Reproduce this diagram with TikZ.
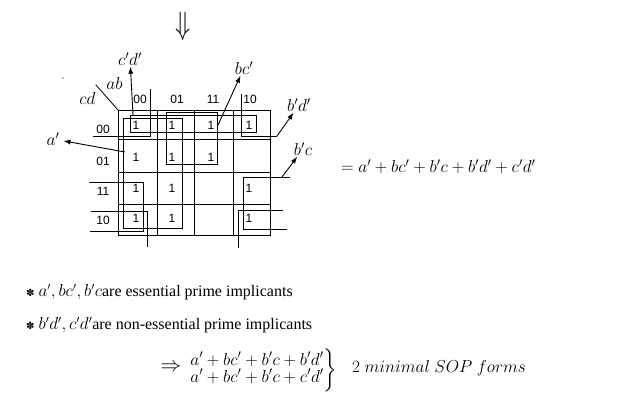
\documentclass[tikz,border=0pt]{standalone}
\usepackage{amsmath,amssymb}
\usepackage{fontspec}
\setmainfont{Liberation Serif}
\newfontfamily\mapfont{Liberation Sans}
\newfontfamily\symfont{DejaVu Sans}
\usetikzlibrary{arrows.meta}

\begin{document}
\begin{tikzpicture}[
  x=1pt, y=-1pt,
  line/.style={line width=.8pt, line cap=rect},
  bit/.style={font=\mapfont\fontsize{12}{14}\selectfont, inner sep=0pt},
  lbl/.style={font=\fontsize{17}{19}\selectfont, inner sep=1pt},
  eqn/.style={font=\fontsize{18}{20}\selectfont, inner sep=1pt, anchor=west},
  txt/.style={font=\fontsize{16}{18}\selectfont, inner sep=0pt, anchor=west},
  arrow/.style={-{Latex[length=7pt, width=5pt]}, line width=.9pt}
]
\useasboundingbox (0,0) rectangle (639,413);

\node[inner sep=0pt] (down) at (183.5,26) {\scalebox{1}[1.3]{\fontsize{28}{28}\selectfont$\Downarrow$}};

\draw[line] (118,110) rectangle (270,235);
\foreach \x in {157,194,233} \draw[line] (\x,110) -- (\x,235);
\foreach \y in {139,172,204} \draw[line] (118,\y) -- (270,\y);
\draw[line] (96,85) -- (118,110);
\fill (63,78) circle (.6pt);

\node[lbl] (ab) at (114.5,83) {$ab$};
\node[lbl] (cd) at (87.5,98) {$cd$};
\foreach \x/\t in {140/00,177/01,213/11,250/10}
  \node[bit] (c\t) at (\x,99) {\t};
\foreach \y/\t in {129/00,161/01,191/11,220/10}
  \node[bit] (r\t) at (103,\y) {\t};
\foreach \x/\y [count=\i] in {136/125,172/125,211/125,249/125,136/157,172/157,211/157,136/188,172/188,249/188,136/218,172/218,249/218}
  \node[bit] (one\i) at (\x,\y) {1};

\draw[line] (123,118) rectangle (182,228);
\draw[line] (166,112) rectangle (217.5,164);
\draw[line] (130,115) rectangle (256.5,132);
\draw[line] (150,89) -- (150,136) -- (93,136);
\draw[line] (241,94) -- (241,136) -- (277,136);
\draw[line] (91,211) -- (147,211) -- (147,247);
\draw[line] (283,210) -- (238,210) -- (238,248);
\draw[line] (89,182) -- (143,182) -- (143,231) -- (90,231);
\draw[line] (290,177) -- (243,177) -- (243,229) -- (287,229);

\coordinate (cdt) at (133,115);
\coordinate (bct) at (218,125);
\coordinate (apt) at (125,152);
\coordinate (bdt) at (277,136);
\coordinate (bcpt) at (282,177);
\node[lbl] (cdl) at (130,59) {$c'd'$};
\node[lbl] (bcl) at (244,68) {$bc'$};
\node[lbl] (al) at (53,139) {$a'$};
\node[lbl] (bdl) at (299,105) {$b'd'$};
\node[lbl] (bcpl) at (303,149) {$b'c$};
\draw[arrow] (cdt) -- (cdl);
\draw[arrow] (bct) -- (bcl);
\draw[arrow, shorten >=3pt] (apt) -- (al);
\draw[arrow] (bdt) -- (bdl);
\draw[arrow] (bcpt) -- (bcpl);

\node[eqn] (sum) at (340,167) {$= a' + bc' + b'c + b'd' + c'd'$};

\node[txt] (ess) at (26,292) {{\symfont\fontsize{10}{10}\selectfont ✽}\ $a',bc',b'c$are essential prime implicants};
\node[txt] (ness) at (26,325) {{\symfont\fontsize{10}{10}\selectfont ✽}\ $b'd',c'd'$are non-essential prime implicants};

\node[eqn, font=\fontsize{20}{22}\selectfont, anchor=center] (imp) at (171,368) {$\Rightarrow$};
\node[eqn] (forms) at (188,370) {$\left.\begin{aligned}&a'+bc'+b'c+b'd'\\[-6pt]&a'+bc'+b'c+c'd'\end{aligned}\right\}$};
\node[lbl, font=\fontsize{17.5}{19}\selectfont, anchor=west] (sop) at (351,368) {$2\ minimal\ SOP\ forms$};
\end{tikzpicture}
\end{document}
